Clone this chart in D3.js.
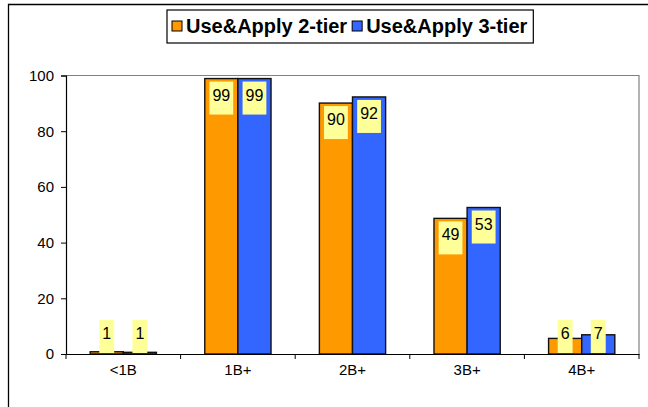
<!DOCTYPE html>
<html>
<head>
<meta charset="utf-8">
<script src="https://cdn.jsdelivr.net/npm/d3@7"></script>
<style>
  body { margin: 0; background: #fff; }
  svg { display: block; font-family: Arial, "Liberation Sans", sans-serif; }
</style>
</head>
<body>
<div id="chart"></div>
<script>
// data
const categories = ["<1B", "1B+", "2B+", "3B+", "4B+"];
const seriesNames = ["Use&Apply 2-tier", "Use&Apply 3-tier"];
const twoTier = [0.8, 98.9, 90.1, 48.7, 5.6];
const threeTier = [0.6, 98.9, 92.3, 52.6, 6.9];
const yTicks = [0, 20, 40, 60, 80, 100];

const colors = ["#FF9900", "#3366FF"];

// sizing
const width = 648, height = 407;
const plot = { left: 66, right: 639, top: 75.5, bottom: 354 };

const svg = d3.select("#chart")
  .append("svg")
  .attr("width", width)
  .attr("height", height);

// outer frame
svg.append("path")
  .attr("d", `M8.5,${height + 2} V4.5 H${width + 2}`)
  .attr("fill", "none")
  .attr("stroke", "#000")
  .attr("stroke-width", 1.3);

// scales
const x = d3.scaleBand()
  .domain(categories)
  .range([plot.left, plot.right]);

const xInner = d3.scaleBand()
  .domain(seriesNames)
  .range([0, x.bandwidth()])
  .paddingOuter(0.73)
  .paddingInner(0);

const y = d3.scaleLinear()
  .domain([0, 100])
  .range([plot.bottom, plot.top]);

// plot frame (top and right)
svg.append("path")
  .attr("d", `M${plot.left},${plot.top} H${plot.right} V${plot.bottom}`)
  .attr("fill", "none")
  .attr("stroke", "#808080")
  .attr("stroke-width", 1.2);

// bars
const series = [twoTier, threeTier];
const barData = [];
series.forEach((vals, s) => vals.forEach((v, i) => barData.push({ s, cat: categories[i], v })));

svg.append("g").selectAll("rect")
  .data(barData)
  .join("rect")
  .attr("x", d => x(d.cat) + xInner(seriesNames[d.s]))
  .attr("y", d => y(d.v))
  .attr("width", xInner.bandwidth())
  .attr("height", d => y(0) - y(d.v))
  .attr("fill", d => colors[d.s])
  .attr("stroke", "#111")
  .attr("stroke-width", 1.4);

// value labels
const fmt = d3.format(".0f");
const labels = svg.append("g").selectAll("g")
  .data(barData)
  .join("g");

labels.append("text")
  .attr("x", d => x(d.cat) + xInner(seriesNames[d.s]) + xInner.bandwidth() / 2)
  .attr("y", d => Math.min(y(d.v) + 3, y(0) - 34) + 19)
  .attr("text-anchor", "middle")
  .attr("font-size", "16px")
  .attr("fill", "#000")
  .text(d => fmt(d.v));

labels.each(function(d) {
  const t = d3.select(this).select("text");
  const w = t.node().getComputedTextLength();
  const cx = x(d.cat) + xInner(seriesNames[d.s]) + xInner.bandwidth() / 2;
  d3.select(this).insert("rect", "text")
    .attr("x", cx - w / 2 - 3)
    .attr("y", Math.min(y(d.v) + 3, y(0) - 34))
    .attr("width", w + 6)
    .attr("height", 33)
    .attr("fill", "#FFFF99");
});

// y axis
const yAxis = svg.append("g")
  .attr("transform", `translate(${plot.left},0)`)
  .call(d3.axisLeft(y).tickValues(yTicks).tickSize(5).tickPadding(7));
yAxis.select(".domain").attr("stroke", "#000").attr("stroke-width", 1.2);
yAxis.selectAll(".tick line").attr("stroke", "#000");
yAxis.selectAll("text").attr("font-size", "15px").attr("fill", "#000")
  .attr("font-family", "Arial, 'Liberation Sans', sans-serif");

// x axis
const xAxis = svg.append("g")
  .attr("transform", `translate(0,${plot.bottom})`)
  .call(d3.axisBottom(x).tickSize(0).tickPadding(10));
xAxis.select(".domain").attr("stroke", "#000").attr("stroke-width", 1.2);
xAxis.selectAll("text").attr("font-size", "15px").attr("fill", "#000")
  .attr("font-family", "Arial, 'Liberation Sans', sans-serif");

// x tick marks at band boundaries
xAxis.append("g").selectAll("line")
  .data(categories.concat(["end"]))
  .join("line")
  .attr("x1", (d, i) => plot.left + i * x.step())
  .attr("x2", (d, i) => plot.left + i * x.step())
  .attr("y1", 0)
  .attr("y2", 5)
  .attr("stroke", "#000");

// legend
const legend = svg.append("g");
const legendBox = legend.append("rect")
  .attr("y", 10)
  .attr("height", 33)
  .attr("fill", "#fff")
  .attr("stroke", "#000")
  .attr("stroke-width", 1.2);

let lx = 172;
seriesNames.forEach((name, i) => {
  legend.append("rect")
    .attr("x", lx)
    .attr("y", 21)
    .attr("width", 10)
    .attr("height", 10)
    .attr("fill", colors[i])
    .attr("stroke", "#000")
    .attr("stroke-width", 1);
  const t = legend.append("text")
    .attr("x", lx + 14)
    .attr("y", 33)
    .attr("font-size", "20px")
    .attr("font-weight", "bold")
    .text(name);
  lx += 14 + t.node().getComputedTextLength() + 5;
});
legendBox.attr("x", 167).attr("width", lx - 167 + 1);
</script>
</body>
</html>
